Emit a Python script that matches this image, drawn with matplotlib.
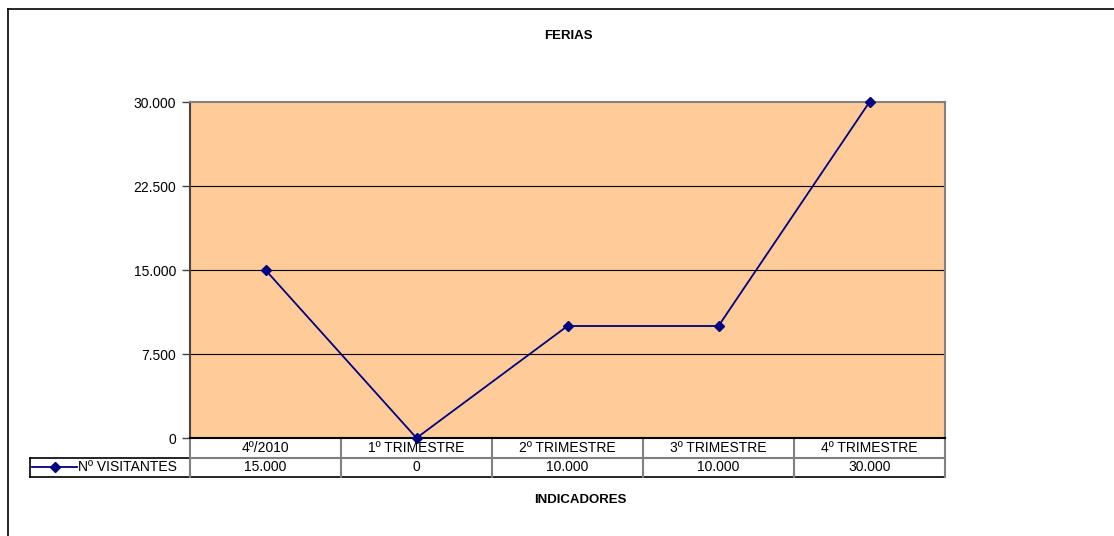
import matplotlib
matplotlib.use("Agg")
import matplotlib.pyplot as plt
from matplotlib.lines import Line2D
from matplotlib.transforms import blended_transform_factory

categories = ["4º/2010", "1º TRIMESTRE", "2º TRIMESTRE", "3º TRIMESTRE", "4º TRIMESTRE"]
series_name = "Nº VISITANTES"
values = [15000, 0, 10000, 10000, 30000]
yticks = [0, 7500, 15000, 22500, 30000]
ytick_labels = ["0", "7.500", "15.000", "22.500", "30.000"]
value_labels = ["15.000", "0", "10.000", "10.000", "30.000"]

plt.rcParams['font.family'] = ['Liberation Sans', 'DejaVu Sans']
W, H = 1114, 536
fig = plt.figure(figsize=(W / 100, H / 100), dpi=100)

FS = 10
FSB = 9.5

def fx(px):
    return px / W

def fy(py):
    return 1 - py / H

# outer chart frame (partially cut off)
fig.add_artist(Line2D([fx(8), fx(1114)], [fy(9), fy(9)], color="black", lw=1.2))
fig.add_artist(Line2D([fx(8), fx(8)], [fy(9), fy(536)], color="black", lw=1.2))

ax = fig.add_axes([fx(190), fy(438), fx(945) - fx(190), fy(102) - fy(438)])
ax.set_facecolor("#FFCC99")
ax.set_xlim(-0.5, len(categories) - 0.5)
ax.set_ylim(0, 30000)
ax.set_yticks(yticks)
ax.set_yticklabels(ytick_labels, fontsize=FS)
ax.set_xticks([])
ax.tick_params(axis="y", direction="out", length=6, width=1, color="#444444", pad=4)
for y in yticks[1:-1]:
    ax.axhline(y, color="black", lw=0.8, zorder=1)
for side in ["top", "right"]:
    ax.spines[side].set_color("#808080")
    ax.spines[side].set_linewidth(1.5)
ax.spines["left"].set_color("#444444")
ax.spines["left"].set_linewidth(1.5)
ax.spines["bottom"].set_color("black")
ax.spines["bottom"].set_linewidth(1.5)

x = list(range(len(categories)))
ax.plot(x, values, color="#000080", lw=1.3, marker="D", markersize=5.5, zorder=3, clip_on=False)

# data table below the axis
tr = blended_transform_factory(ax.transData, ax.transAxes)
ah = fy(102) - fy(438)
row_h = (19.5 / H) / ah
y0 = 0
y1 = -row_h
y2 = -2 * row_h
xl = -0.5
xr = len(categories) - 0.5
xleg = -0.5 - 160 / 151.0
grid_c = "#808080"
ax.add_line(Line2D([xl, xr], [y1, y1], transform=tr, color=grid_c, lw=1.5, clip_on=False))
ax.add_line(Line2D([xleg, xl], [y1, y1], transform=tr, color="black", lw=1.2, clip_on=False))
ax.add_line(Line2D([xleg, xr], [y2, y2], transform=tr, color="black", lw=1.2, clip_on=False))
for i in range(len(categories) + 1):
    xv = i - 0.5
    ax.add_line(Line2D([xv, xv], [y0, y2], transform=tr, color=grid_c, lw=1.5, clip_on=False))
ax.add_line(Line2D([xleg, xleg], [y1, y2], transform=tr, color="black", lw=1.2, clip_on=False))

for i, (c, v) in enumerate(zip(categories, value_labels)):
    ax.text(i, (y0 + y1) / 2, c, transform=tr, ha="center", va="center", fontsize=FS)
    ax.text(i, (y1 + y2) / 2, v, transform=tr, ha="center", va="center", fontsize=FS)

# legend key in table
ym = (y1 + y2) / 2
kx0 = xleg + 2 / 151.0
kx1 = xleg + 47 / 151.0
ax.add_line(Line2D([kx0, kx1], [ym, ym], transform=tr, color="#000080", lw=1.3, clip_on=False))
ax.add_line(Line2D([(kx0 + kx1) / 2], [ym], transform=tr, color="#000080", marker="D",
                   markersize=5.5, clip_on=False))
ax.text(kx1 + 1 / 151.0, ym, series_name, transform=tr, ha="left", va="center", fontsize=FS)

fig.text(fx(568), fy(36), "FERIAS", ha="center", va="center", fontsize=FSB, fontweight="bold")
fig.text(fx(580), fy(500), "INDICADORES", ha="center", va="center", fontsize=FSB, fontweight="bold")

fig.savefig("out.png", dpi=100)
